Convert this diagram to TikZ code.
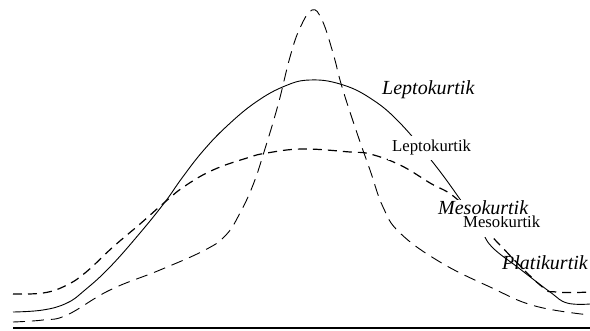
\documentclass[tikz,border=0pt]{standalone}
\usepackage{fontspec}
\setmainfont{Liberation Serif}
\usetikzlibrary{positioning}

\begin{document}
\begin{tikzpicture}[x=1pt, y=-1pt,
  curve/.style={line width=0.9pt, smooth, tension=0.7},
  platy/.style={curve, line width=1.2pt, dash pattern=on 9pt off 6pt},
  lepto/.style={curve, dash pattern=on 12pt off 7pt},
  lblI/.style={font=\fontsize{20}{22}\selectfont\itshape, anchor=base west, inner sep=0pt},
  lblR/.style={font=\fontsize{16.7}{19}\selectfont, anchor=base west, fill=white, inner sep=4pt}]
\useasboundingbox (0,0) rectangle (590,331);
% base line
\draw[line width=2pt] (13,328) -- (590,328);
% normal curve
\draw[curve] plot coordinates {(13,312) (43,310) (67,303) (85,290) (110,267) (140,233)
  (165,202) (182,178) (203,151) (227,126) (256,102) (285,86) (310,80) (340,84) (370,98)
  (400,123) (435,165) (462,202) (480,228) (492,247) (520,269) (550,292) (567,303) (590,304)};
% flat curve
\draw[platy] plot coordinates {(13,294) (43,293) (65,286) (85,273) (113,247) (140,224)
  (165,202) (185,186) (213,170) (247,158) (267,153) (303,149) (350,152) (370,154)
  (400,165) (430,183) (458,200) (498,243) (540,285) (556,292) (590,292)};
% peaked curve
\draw[lepto] plot coordinates {(13,322) (43,320) (67,315) (110,290) (160,270) (205,250)
  (226,235) (240,213) (253,185) (264,152) (278,105) (290,57) (300,28) (312,10)
  (322,20) (333,53) (342,87) (357,133) (370,170) (383,207) (400,233) (440,262)
  (490,287) (535,306) (590,315)};
% labels
\node[lblI] (leptoI) at (382,95) {Leptokurtik};
\node[lblR] (leptoR) at (388,152) {Leptokurtik};
\node[lblR, inner xsep=2pt, inner ysep=9pt] (mesoR) at (461,228) {Mesokurtik};
\node[lblI, fill=white, inner sep=1pt] (mesoI) at (437,215) {Mesokurtik};
\node[lblI] (platyI) at (502,270) {Platikurtik};
\end{tikzpicture}
\end{document}
